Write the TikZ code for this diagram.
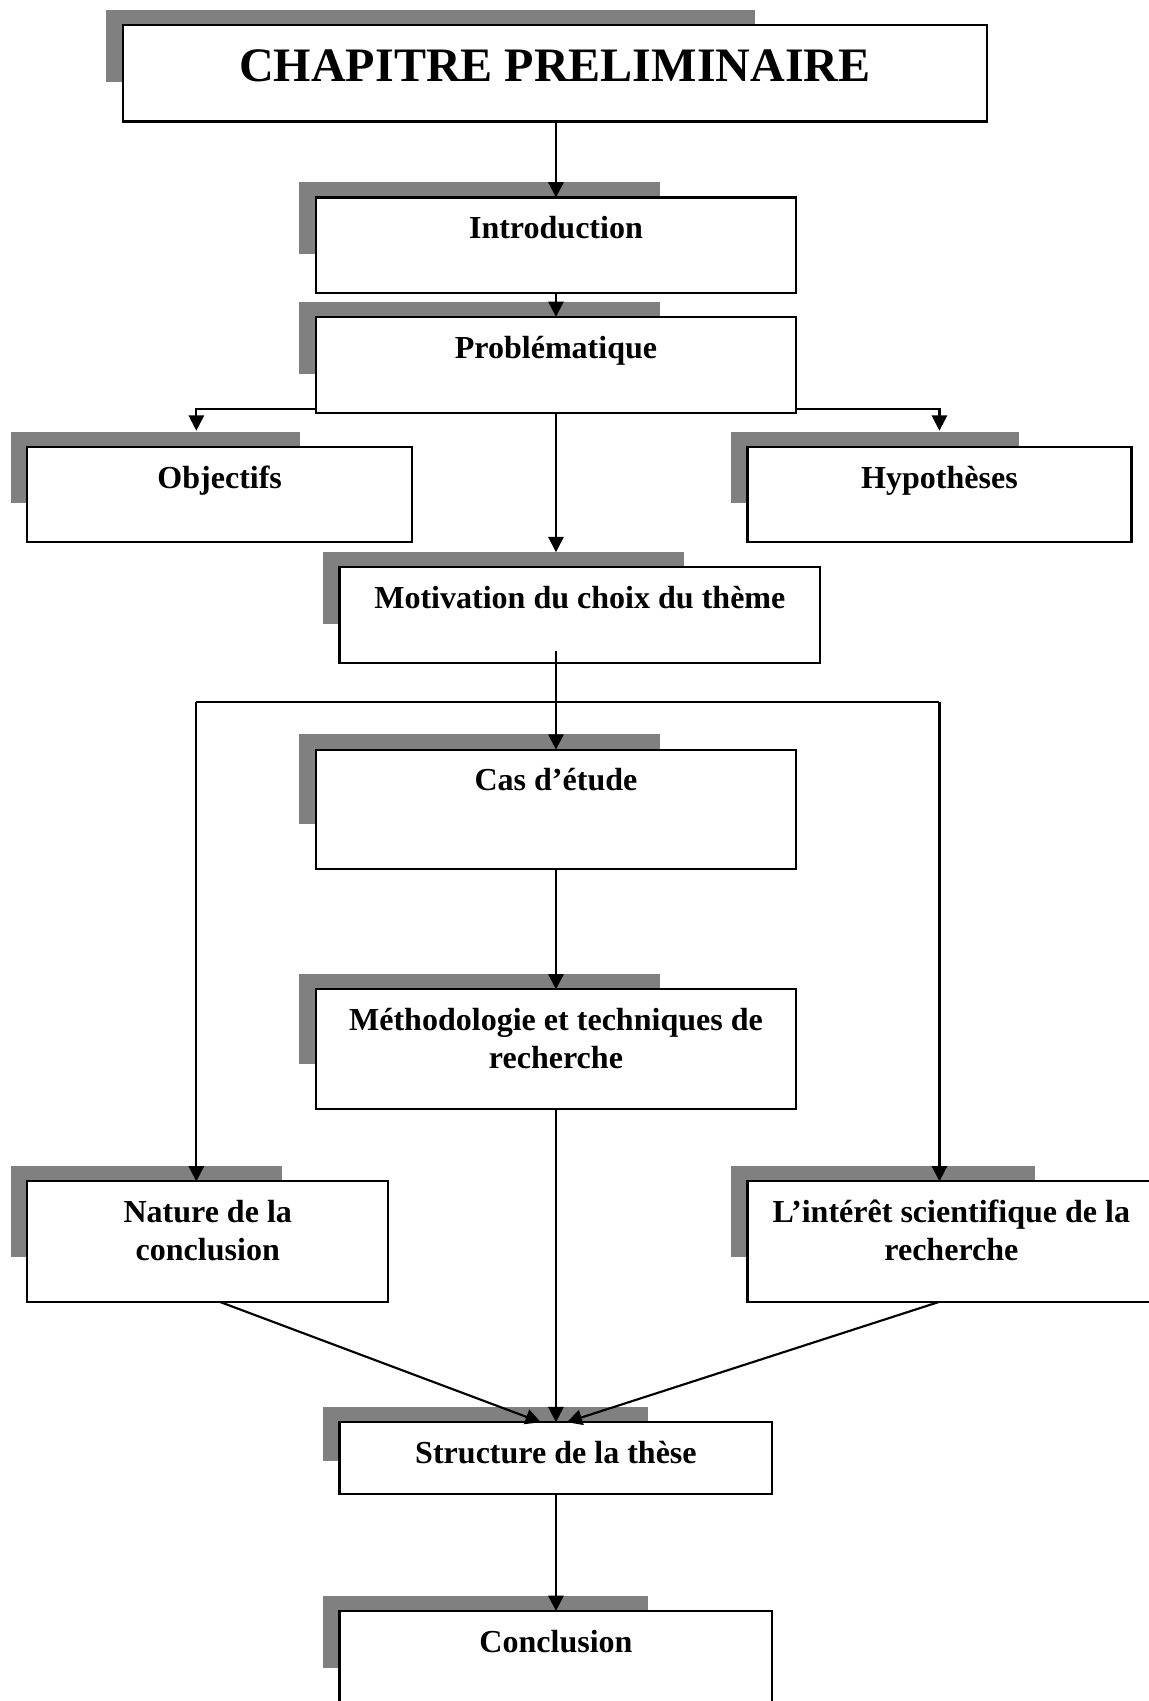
\documentclass[tikz,border=0pt]{standalone}
\usepackage{fontspec}
\setmainfont{Liberation Serif}
\usetikzlibrary{arrows.meta,calc,backgrounds}
\definecolor{shadowgray}{HTML}{808080}
\newcommand\pxu{0.025cm}
\tikzset{
  bx/.style={draw, fill=white, line width=1.4pt, inner sep=0pt, outer sep=0pt, anchor=north west},
  lbl/.style={font=\fontsize{21}{25}\selectfont\bfseries, align=center, inner sep=0pt, anchor=base},
  ttl/.style={font=\fontsize{31.5}{36}\selectfont\bfseries, inner sep=0pt, anchor=base},
  link/.style={line width=1.4pt},
  arr/.style={link, -{Triangle[length=10pt,width=10pt]}},
  dropfill/.style={fill=shadowgray},
}
% grey offset block behind a box, three quarters of its size
\newcommand\dropshadow[1]{\fill[dropfill] ($(#1.north west)+(-15,-14)$) rectangle ($(#1.north west)!0.75!(#1.south east)+(-15,-14)$);}
\begin{document}
\begin{tikzpicture}[x=0.025cm, y=-0.025cm]
\useasboundingbox (0,0) rectangle (1059,1568);

% boxes
\node[bx, minimum width=797*\pxu, minimum height=89*\pxu] (top) at (113,23) {};
\node[bx, minimum width=443*\pxu, minimum height=88*\pxu] (intro) at (291,182) {};
\node[bx, minimum width=443*\pxu, minimum height=89*\pxu] (prob) at (291,292) {};
\node[bx, minimum width=355*\pxu, minimum height=88*\pxu] (obj) at (25,412) {};
\node[bx, minimum width=354*\pxu, minimum height=88*\pxu] (hyp) at (689,412) {};
\node[bx, minimum width=443*\pxu, minimum height=88*\pxu] (mot) at (313,523) {};
\node[bx, minimum width=443*\pxu, minimum height=110*\pxu] (cas) at (291,691) {};
\node[bx, minimum width=443*\pxu, minimum height=110*\pxu] (meth) at (291,912) {};
\node[bx, minimum width=333*\pxu, minimum height=111*\pxu] (nat) at (25,1089) {};
\node[bx, minimum width=374*\pxu, minimum height=111*\pxu] (int) at (689,1089) {};
\node[bx, minimum width=399*\pxu, minimum height=66*\pxu] (str) at (313,1311) {};
\node[bx, minimum width=399*\pxu, minimum height=89*\pxu] (con) at (313,1485) {};

\begin{scope}[on background layer]
  \foreach \b in {top,intro,prob,obj,hyp,mot,cas,meth,nat,int,str,con} {\dropshadow{\b}}
\end{scope}

% labels (two-line labels are anchored on their last line)
\node[ttl] (top-t) at ($(top.north)+(0,52)$) {CHAPITRE PRELIMINAIRE};
\node[lbl] (intro-t) at ($(intro.north)+(0,38)$) {Introduction};
\node[lbl] (prob-t) at ($(prob.north)+(0,38)$) {Problématique};
\node[lbl] (obj-t) at ($(obj.north)+(0,38)$) {Objectifs};
\node[lbl] (hyp-t) at ($(hyp.north)+(0,38)$) {Hypothèses};
\node[lbl] (mot-t) at ($(mot.north)+(0,38)$) {Motivation du choix du thème};
\node[lbl] (cas-t) at ($(cas.north)+(0,38)$) {Cas d’étude};
\node[lbl] (meth-t) at ($(meth.north)+(0,73)$) {Méthodologie et techniques de\\recherche};
\node[lbl] (nat-t) at ($(nat.north)+(0,73)$) {Nature de la\\conclusion};
\node[lbl] (int-t) at ($(int.north)+(1,73)$) {L’intérêt scientifique de la\\recherche};
\node[lbl] (str-t) at ($(str.north)+(0,38)$) {Structure de la thèse};
\node[lbl] (con-t) at ($(con.north)+(0,38)$) {Conclusion};

% connectors
\coordinate (forkL) at (181,647);
\coordinate (forkR) at (866,647);
\draw[arr] (top.south -| intro.north) -- (intro.north);
\draw[arr] (intro.south) -- (prob.north);
\draw[arr] ($(prob.south west)+(0,-4)$) -| ($(obj.north west)+(156,-15)$);
\draw[arr] ($(prob.south east)+(0,-4)$) -| ($(hyp.north)+(0,-15)$);
\draw[arr] (prob.south) -- ($(mot.north -| prob.south)+(0,-14)$);
\draw[arr] ($(mot.south -| cas.north)+(0,-11)$) -- (cas.north);
\draw[link] (forkL) -- (forkR);
\draw[arr] (forkL) -- (forkL |- nat.north);
\draw[arr] (forkR) -- (forkR |- int.north);
\draw[arr] (cas.south) -- (meth.north);
\draw[arr] (meth.south) -- (str.north);
\draw[arr] ($(nat.south)+(11,0)$) -- ($(str.north)+(-14,0)$);
\draw[arr] ($(int.south)+(-10,0)$) -- ($(str.north)+(10,0)$);
\draw[arr] (str.south) -- (con.north);
\end{tikzpicture}
\end{document}
